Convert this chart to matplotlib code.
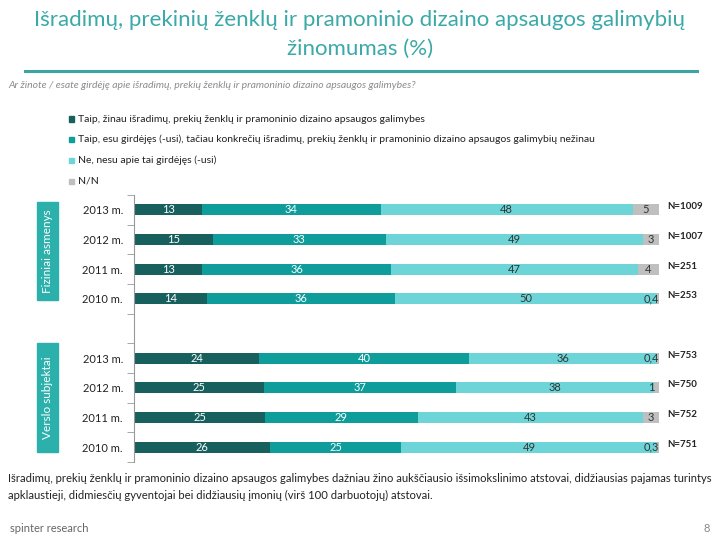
import numpy as np
import matplotlib.pyplot as plt
import matplotlib.patches as patches

plt.rcParams['font.family'] = ['Lato', 'DejaVu Sans']

years = ["2013 m.", "2012 m.", "2011 m.", "2010 m."]
groups = ["Fiziniai asmenys", "Verslo subjektai"]

# % answers, order 2013..2010 for each group
know = [13, 15, 13, 14, 24, 25, 25, 26]
heard = [34, 33, 36, 36, 40, 37, 29, 25]
no = [48, 49, 47, 50, 36, 38, 43, 49]
na = [5, 3, 4, 0.4, 0.4, 1, 3, 0.3]
n_resp = [1009, 1007, 251, 253, 753, 750, 752, 751]

series_names = [
    "Taip, žinau išradimų, prekių ženklų ir pramoninio dizaino apsaugos galimybes",
    "Taip, esu girdėjęs (-usi), tačiau konkrečių išradimų, prekių ženklų ir pramoninio dizaino apsaugos galimybių nežinau",
    "Ne, nesu apie tai girdėjęs (-usi)",
    "N/N",
]
colors = ["#17605e", "#0e9d9a", "#6dd5d7", "#bfbfbf"]
label_colors = ["white", "white", "#333333", "#333333"]

fig = plt.figure(figsize=(7.2, 5.4), dpi=100)

# title + rule
fig.text(0.5, 1 - 20/540, "Išradimų, prekinių ženklų ir pramoninio dizaino apsaugos galimybių",
         ha="center", va="center", fontsize=16, color="#3aa9a8")
fig.text(0.5, 1 - 49/540, "žinomumas (%)", ha="center", va="center", fontsize=16, color="#3aa9a8")
fig.add_artist(plt.Line2D([25/720, 697/720], [1 - 71/540] * 2, color="#3ea3a3", lw=2.2))
fig.text(8/720, 1 - 86/540,
         "Ar žinote / esate girdėję apie išradimų, prekių ženklų ir pramoninio dizaino apsaugos galimybes?",
         ha="left", va="center", fontsize=7.5, style="italic", color="#8c8c8c")

# legend
for i, name in enumerate(series_names):
    yy = 1 - (119 + i * 20.7) / 540
    fig.add_artist(patches.Rectangle((69/720, yy - 2.5/540), 5/720, 5/540,
                                     transform=fig.transFigure, color=colors[i]))
    fig.text(78/720, yy, name, ha="left", va="center", fontsize=7.5, color="#222222")

ax = fig.add_axes([134/720, 1 - 462/540, 525/720, 267/540])

# positions: 4 rows, an empty slot, 4 rows
pos = [0, 1, 2, 3, 5, 6, 7, 8]
data = np.array([know, heard, no, na], dtype=float)
totals = data.sum(axis=0)
shares = data / totals * 100

left = np.zeros(len(pos))
for s in range(4):
    ax.barh(pos, shares[s], left=left, height=0.38, color=colors[s])
    for p, l, w, v in zip(pos, left, shares[s], data[s]):
        cx = min(l + w / 2, 98.6)
        txt = ("%g" % v).replace(".", ",")
        ax.text(cx, p, txt, ha="center", va="center", fontsize=8, color=label_colors[s])
    left += shares[s]

for p, n in zip(pos, n_resp):
    ax.text(101.5, p - 0.1, "N=%d" % n, ha="left", va="center", fontsize=7,
            fontweight="bold", color="#222222")

ax.set_xlim(0, 100)
ax.set_ylim(8.5, -0.5)
ax.set_yticks(pos)
ax.set_yticklabels(years + years, fontsize=8, color="#222222")
ax.set_yticks(np.arange(-0.5, 9, 1), minor=True)
ax.tick_params(axis="y", which="major", length=0, pad=8)
ax.tick_params(axis="y", which="minor", length=5, color="#999999", direction="out")
ax.set_xticks([])
for side in ["top", "right", "bottom"]:
    ax.spines[side].set_visible(False)
ax.spines["left"].set_color("#999999")

# group boxes
for g, (y0, y1) in zip(groups, [(202, 300), (343, 452)]):
    fig.add_artist(patches.Rectangle((37/720, 1 - y1/540), 21/720, (y1 - y0)/540,
                                     transform=fig.transFigure, color="#2bb0ab"))
    fig.text(47.5/720, 1 - (y0 + y1) / 2 / 540, g, rotation=90, ha="center", va="center",
             fontsize=8.5, color="white")

fig.text(8/720, 1 - 478/540,
         "Išradimų, prekių ženklų ir pramoninio dizaino apsaugos galimybes dažniau žino aukščiausio išsimokslinimo atstovai, didžiausias pajamas turintys",
         ha="left", va="center", fontsize=8.1, color="#222222")
fig.text(8/720, 1 - 495/540,
         "apklaustieji, didmiesčių gyventojai bei didžiausių įmonių (virš 100 darbuotojų) atstovai.",
         ha="left", va="center", fontsize=8.1, color="#222222")
fig.text(10/720, 1 - 528/540, "spinter research", ha="left", va="center", fontsize=8, color="#666666")
fig.text(710/720, 1 - 528/540, "8", ha="right", va="center", fontsize=8, color="#888888")

fig.savefig("out.png", dpi=100)
